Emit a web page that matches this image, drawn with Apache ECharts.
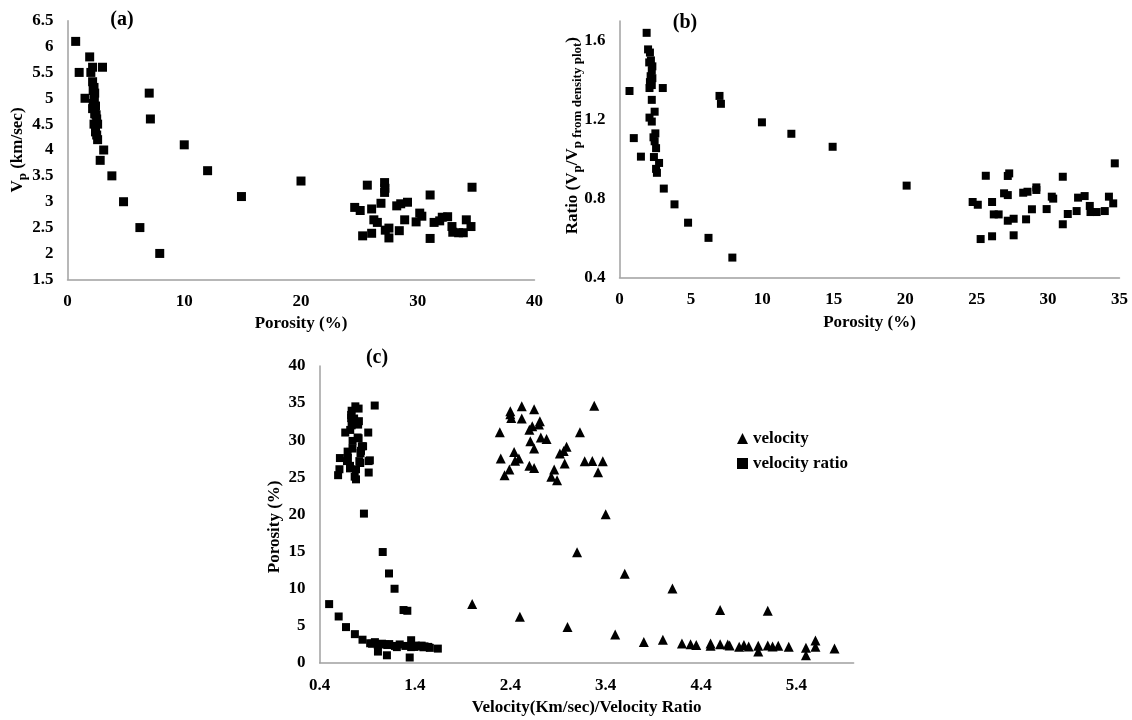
<!DOCTYPE html>
<html>
<head>
<meta charset="utf-8">
<script src="https://cdn.jsdelivr.net/npm/echarts@6/dist/echarts.min.js"></script>
<style>
html, body { margin: 0; padding: 0; background: #fff; }
#chart { width: 1132px; height: 720px; }
</style>
</head>
<body>
<div id="chart"></div>
<script>
// Samples: [porosity (%), P-wave velocity (km/sec)]
const velocityPoints = [
  [0.7, 6.1], [1.0, 5.5], [1.5, 5.0], [1.9, 5.8], [2.0, 5.5], [2.15, 5.6], [3.0, 5.6],
  [2.15, 5.32], [2.27, 5.21], [2.33, 5.1], [2.2, 5.15], [2.3, 5.0], [2.2, 4.9], [2.15, 4.8],
  [2.33, 4.7], [2.45, 4.68], [2.4, 4.85], [2.27, 4.5], [2.58, 4.5], [2.5, 4.6], [2.4, 4.35],
  [2.5, 4.29], [2.58, 4.2],
  [2.8, 3.8], [3.1, 4.0], [3.8, 3.5], [4.8, 3.0], [6.2, 2.5], [7.9, 2.0], [7.0, 5.1], [7.1, 4.6],
  [10.0, 4.1], [12.0, 3.6], [14.9, 3.1], [20.0, 3.4],
  [24.6, 2.89], [25.07, 2.83], [25.68, 3.32], [25.28, 2.34], [26.05, 2.86], [26.05, 2.39],
  [26.24, 2.65], [26.54, 2.6], [26.85, 2.97], [27.16, 3.37], [27.19, 3.26], [27.16, 3.18],
  [27.22, 2.45], [27.53, 2.49], [27.53, 2.3], [28.2, 2.92], [28.42, 2.44], [28.54, 2.96],
  [28.88, 2.65], [29.12, 2.99], [29.86, 2.61], [30.17, 2.78], [30.35, 2.72], [31.06, 3.13],
  [31.06, 2.29], [31.4, 2.6], [31.88, 2.63], [32.1, 2.7], [32.56, 2.71], [32.93, 2.52],
  [33.0, 2.41], [33.5, 2.4], [33.9, 2.4], [34.16, 2.65], [34.56, 2.52], [34.65, 3.28]
];

// Samples: [porosity (%), Vp / Vp from density plot]
const ratioPoints = [
  [0.7, 1.345], [1.0, 1.106], [1.5, 1.012], [1.9, 1.64],
  [2.0, 1.556], [2.13, 1.54], [2.2, 1.50], [2.08, 1.49], [2.3, 1.47], [2.26, 1.45],
  [2.18, 1.42], [2.3, 1.41], [2.13, 1.39], [2.26, 1.375], [2.1, 1.36], [3.03, 1.36],
  [2.26, 1.30], [2.46, 1.24], [2.1, 1.21], [2.26, 1.19], [2.51, 1.13], [2.38, 1.11],
  [2.46, 1.09], [2.56, 1.055], [2.41, 1.01], [2.77, 0.98], [2.56, 0.95], [2.62, 0.93],
  [3.1, 0.85], [3.85, 0.77], [4.8, 0.677], [6.23, 0.60], [7.9, 0.50], [7.0, 1.32], [7.1, 1.28],
  [9.97, 1.186], [12.03, 1.128], [14.92, 1.062], [20.1, 0.865],
  [24.72, 0.782], [25.08, 0.768], [25.64, 0.915], [25.28, 0.594], [26.08, 0.782], [26.08, 0.608],
  [26.2, 0.719], [26.54, 0.719], [26.92, 0.826], [27.18, 0.817], [27.18, 0.914], [27.28, 0.927],
  [27.18, 0.687], [27.59, 0.697], [27.59, 0.613], [28.26, 0.829], [28.56, 0.834], [28.46, 0.694],
  [28.87, 0.745], [29.18, 0.856], [29.18, 0.843], [29.9, 0.746], [30.26, 0.809], [30.36, 0.799],
  [31.03, 0.910], [31.03, 0.669], [31.38, 0.721], [32.0, 0.736], [32.1, 0.804], [32.56, 0.812],
  [32.92, 0.762], [32.97, 0.731], [33.4, 0.731], [33.97, 0.736], [34.26, 0.809], [34.56, 0.775],
  [34.67, 0.978]
];

// Axis ranges: [min, max, interval]
const porosityAxisA = [0, 40, 10];
const velocityAxisA = [1.5, 6.5, 0.5];
const porosityAxisB = [0, 35, 5];
const ratioAxisB = [0.4, 1.7, 0.4];
const mixedAxisC = [0.4, 6.0, 1.0];
const porosityAxisC = [0, 40, 5];

const panelLabels = ['(a)', '(b)', '(c)'];
const seriesNamesC = ['velocity', 'velocity ratio'];

const FONT = '"Liberation Serif", "Times New Roman", serif';
const axisLineStyle = { show: true, lineStyle: { color: '#a0a0a0', width: 1.5 } };
const markStyle = { color: '#000', opacity: 1 };

function labelStyle(extra) {
  return Object.assign({
    margin: 14, color: '#000', fontSize: 17, fontWeight: 'bold', fontFamily: FONT
  }, extra || {});
}
function nameStyle(extra) {
  return Object.assign({
    color: '#000', fontSize: 17, fontWeight: 'bold', fontFamily: FONT, lineHeight: 20
  }, extra || {});
}
const subRich = {
  m: { fontSize: 17, fontWeight: 'bold', fontFamily: FONT, color: '#000', lineHeight: 20, verticalAlign: 'top' },
  s: { fontSize: 13, fontWeight: 'bold', fontFamily: FONT, color: '#000', lineHeight: 13, verticalAlign: 'bottom', padding: [9, 0, 0, 0] }
};

function valueAxis(gridIndex, range, extra) {
  return Object.assign({
    type: 'value',
    gridIndex: gridIndex,
    min: range[0], max: range[1], interval: range[2],
    axisLine: axisLineStyle,
    axisTick: { show: false },
    splitLine: { show: false },
    nameLocation: 'middle',
    nameMoveOverlap: false
  }, extra);
}

const chart = echarts.init(document.getElementById('chart'), null, { renderer: 'canvas' });

const option = {
  backgroundColor: '#fff',
  animation: false,
  grid: [
    { left: 67.5, top: 20.7, width: 467, height: 258.6, outerBoundsMode: 'none' },
    { left: 619.5, top: 21, width: 500, height: 256.3, outerBoundsMode: 'none' },
    { left: 319.6, top: 366, width: 534, height: 296.7, outerBoundsMode: 'none' }
  ],
  xAxis: [
    valueAxis(0, porosityAxisA, {
      name: 'Porosity (%)', nameGap: 34, nameTextStyle: nameStyle(),
      axisLabel: labelStyle()
    }),
    valueAxis(1, porosityAxisB, {
      name: 'Porosity (%)', nameGap: 35, nameTextStyle: nameStyle(),
      axisLabel: labelStyle()
    }),
    valueAxis(2, mixedAxisC, {
      name: 'Velocity(Km/sec)/Velocity Ratio', nameGap: 35, nameTextStyle: nameStyle(),
      axisLabel: labelStyle({ showMaxLabel: false })
    })
  ],
  yAxis: [
    valueAxis(0, velocityAxisA, {
      name: '{m|V}{s|p}{m| (km/sec)}', nameGap: 38,
      nameTextStyle: nameStyle({ rich: subRich }),
      axisLabel: labelStyle()
    }),
    valueAxis(1, ratioAxisB, {
      name: '{m|Ratio (V}{s|p}{m|/V}{s|p from density plot}{m|)}', nameGap: 35,
      nameTextStyle: nameStyle({ rich: subRich, padding: [0, 0, 0, 27] }),
      axisLabel: labelStyle({ showMaxLabel: false })
    }),
    valueAxis(2, porosityAxisC, {
      name: 'Porosity (%)', nameGap: 35,
      nameTextStyle: nameStyle({ padding: [0, 25, 0, 0] }),
      axisLabel: labelStyle()
    })
  ],
  legend: {
    data: seriesNamesC,
    orient: 'vertical',
    left: 732,
    top: 425,
    itemWidth: 11,
    itemHeight: 11,
    itemGap: 8,
    textStyle: { color: '#000', fontSize: 17, fontWeight: 'bold', fontFamily: FONT }
  },
  series: [
    {
      type: 'scatter', xAxisIndex: 0, yAxisIndex: 0,
      symbol: 'rect', symbolSize: 9,
      itemStyle: markStyle,
      data: velocityPoints
    },
    {
      type: 'scatter', xAxisIndex: 1, yAxisIndex: 1,
      symbol: 'rect', symbolSize: 8,
      itemStyle: markStyle,
      data: ratioPoints
    },
    {
      name: seriesNamesC[0],
      type: 'scatter', xAxisIndex: 2, yAxisIndex: 2,
      symbol: 'triangle', symbolSize: 10,
      itemStyle: markStyle,
      data: velocityPoints.map(p => [p[1], p[0]])
    },
    {
      name: seriesNamesC[1],
      type: 'scatter', xAxisIndex: 2, yAxisIndex: 2,
      symbol: 'rect', symbolSize: 8,
      itemStyle: markStyle,
      data: ratioPoints.map(p => [p[1], p[0]])
    }
  ],
  graphic: [
    { type: 'text', x: 122, y: 20, style: { text: panelLabels[0], fill: '#000', font: 'bold 20px ' + FONT, align: 'center', verticalAlign: 'middle', textAlign: 'center', textVerticalAlign: 'middle' } },
    { type: 'text', x: 685, y: 23, style: { text: panelLabels[1], fill: '#000', font: 'bold 20px ' + FONT, align: 'center', verticalAlign: 'middle', textAlign: 'center', textVerticalAlign: 'middle' } },
    { type: 'text', x: 377, y: 358, style: { text: panelLabels[2], fill: '#000', font: 'bold 20px ' + FONT, align: 'center', verticalAlign: 'middle', textAlign: 'center', textVerticalAlign: 'middle' } }
  ]
};

chart.setOption(option);
</script>
</body>
</html>
